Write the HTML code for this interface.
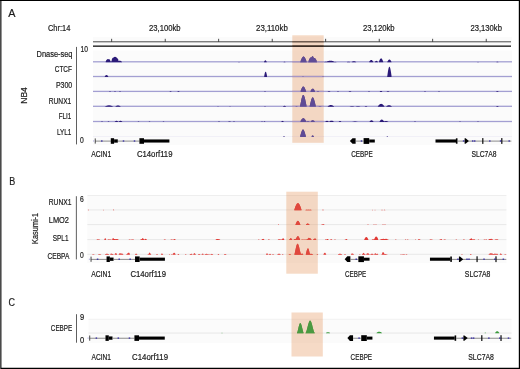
<!DOCTYPE html>
<html><head><meta charset="utf-8"><title>Figure</title>
<style>html,body{margin:0;padding:0;background:#fff}svg{display:block}</style></head>
<body>
<svg width="520" height="369" viewBox="0 0 520 369" font-family="'Liberation Sans', sans-serif" fill="#1c1c1c">
<style>text{stroke:#1c1c1c;stroke-width:0.2px}</style>
<rect x="0" y="0" width="520" height="369" fill="#fff"/>
<rect x="93.0" y="37" width="419.0" height="8.5" fill="#fbfbfb"/>
<rect x="93.0" y="50.5" width="419.0" height="94.5" fill="#fbfbfb"/>
<rect x="93.0" y="41.3" width="418.0" height="1" fill="#4a4a4a"/>
<rect x="93.0" y="45.5" width="418.0" height="1.3" fill="#111"/>
<rect x="111.30" y="38.8" width="0.8" height="3" fill="#222"/>
<rect x="164.80" y="38.8" width="0.8" height="3" fill="#222"/>
<rect x="218.30" y="38.8" width="0.8" height="3" fill="#222"/>
<rect x="271.80" y="38.8" width="0.8" height="3" fill="#222"/>
<rect x="325.30" y="38.8" width="0.8" height="3" fill="#222"/>
<rect x="378.80" y="38.8" width="0.8" height="3" fill="#222"/>
<rect x="432.30" y="38.8" width="0.8" height="3" fill="#222"/>
<rect x="485.80" y="38.8" width="0.8" height="3" fill="#222"/>
<text x="47.90" y="30.60" font-size="8.3" text-anchor="start" textLength="22.40" lengthAdjust="spacingAndGlyphs">Chr:14</text>
<text x="149.00" y="30.60" font-size="8.3" text-anchor="start" textLength="31.60" lengthAdjust="spacingAndGlyphs">23,100kb</text>
<text x="256.00" y="30.60" font-size="8.3" text-anchor="start" textLength="31.80" lengthAdjust="spacingAndGlyphs">23,110kb</text>
<text x="362.90" y="30.60" font-size="8.3" text-anchor="start" textLength="31.70" lengthAdjust="spacingAndGlyphs">23,120kb</text>
<text x="470.40" y="30.60" font-size="8.3" text-anchor="start" textLength="31.50" lengthAdjust="spacingAndGlyphs">23,130kb</text>
<rect x="93.0" y="61.15" width="419.0" height="1.3" fill="#a39fd2"/>
<path d="M105.75 62.35L105.75 61.32L106.00 60.74L106.25 60.29L106.50 59.94L106.75 59.65L107.00 59.43L107.25 59.26L107.50 59.14L107.75 59.07L108.00 59.05L108.25 59.07L108.50 59.14L108.75 59.26L109.00 59.43L109.25 59.22L109.50 59.34L109.75 59.59L110.00 59.96L110.25 60.48L110.50 61.48L110.75 61.46L111.00 61.45L111.25 61.46L111.50 61.48L111.75 59.67L112.00 58.92L112.25 58.40L112.50 58.04L112.75 57.81L113.00 57.92L113.25 57.65L113.50 57.43L113.75 57.25L114.00 57.10L114.25 56.99L114.50 56.91L114.75 56.87L115.00 56.85L115.25 56.87L115.50 56.91L115.75 56.99L116.00 57.10L116.25 57.25L116.50 57.43L116.75 57.65L117.00 57.92L117.25 58.25L117.50 58.64L117.75 58.55L118.00 58.83L118.25 59.41L118.50 61.10L118.75 60.97L119.00 60.87L119.25 60.81L119.50 60.77L119.75 60.75L120.00 60.76L120.25 60.79L120.50 60.84L120.75 60.93L121.00 61.04L121.25 61.19L121.50 61.39L121.75 61.66L122.00 62.10L122.00 62.35ZM238.25 62.35L238.25 62.13L238.50 61.98L238.75 61.88L239.00 61.85L239.25 61.88L239.50 61.98L239.75 62.13L239.75 62.35ZM264.00 62.35L264.00 62.09L264.25 61.53L264.50 61.07L264.75 60.73L265.00 60.49L265.25 60.37L265.50 60.36L265.75 60.46L266.00 60.67L266.25 60.99L266.50 61.43L266.75 61.97L266.75 62.35ZM283.50 62.35L283.50 62.13L283.75 61.97L284.00 61.85L284.25 61.77L284.50 61.75L284.75 61.77L285.00 61.85L285.25 61.97L285.50 62.13L285.50 62.35ZM300.25 62.35L300.25 61.91L300.50 61.32L300.75 60.69L301.00 60.06L301.25 59.45L301.50 58.88L301.75 58.36L302.00 57.89L302.25 57.49L302.50 57.16L302.75 56.89L303.00 56.70L303.25 56.59L303.50 56.55L303.75 56.59L304.00 56.70L304.25 56.89L304.50 57.16L304.75 57.49L305.00 57.89L305.25 58.36L305.50 58.88L305.75 59.45L306.00 60.06L306.25 60.69L306.50 61.32L306.75 61.91L306.75 62.35ZM308.25 62.35L308.25 62.18L308.50 61.36L308.75 60.61L309.00 59.95L309.25 59.36L309.50 58.86L309.75 58.43L310.00 58.08L310.25 57.80L310.50 57.61L310.75 57.49L311.00 57.45L311.25 57.49L311.50 57.61L311.75 56.93L312.00 56.51L312.25 56.27L312.50 56.20L312.75 56.27L313.00 56.49L313.25 56.86L313.50 57.37L313.75 58.03L314.00 58.09L314.25 58.05L314.50 58.07L314.75 58.15L315.00 58.29L315.25 58.50L315.50 58.77L315.75 59.10L316.00 59.51L316.25 59.98L316.50 60.54L316.75 61.18L317.00 61.96L317.00 62.35ZM324.00 62.35L324.00 62.13L324.25 62.04L324.50 61.97L324.75 61.90L325.00 61.85L325.25 61.80L325.50 61.77L325.75 61.76L326.00 61.75L326.25 61.76L326.50 61.77L326.75 61.80L327.00 61.85L327.25 61.38L327.50 61.20L327.75 61.09L328.00 61.03L328.25 61.00L328.50 61.01L328.75 60.92L329.00 60.84L329.25 60.78L329.50 60.73L329.75 60.70L330.00 60.67L330.25 60.66L330.50 60.65L330.75 60.66L331.00 60.67L331.25 60.70L331.50 60.73L331.75 60.78L332.00 60.84L332.25 60.92L332.50 61.01L332.75 61.12L333.00 61.24L333.25 61.28L333.50 61.36L333.75 61.53L334.00 61.98L334.25 61.92L334.50 61.88L334.75 61.86L335.00 61.85L335.25 61.86L335.50 61.88L335.75 61.92L336.00 61.98L336.25 62.05L336.50 62.13L336.50 62.35ZM347.00 62.35L347.00 62.10L347.25 61.97L347.50 61.86L347.75 61.78L348.00 61.71L348.25 61.67L348.50 61.65L348.75 61.65L349.00 61.68L349.25 61.72L349.50 61.79L349.75 61.88L350.00 61.99L350.25 62.13L350.25 62.35ZM351.75 62.35L351.75 62.04L352.00 61.84L352.25 61.67L352.50 61.53L352.75 61.40L353.00 61.31L353.25 61.23L353.50 61.18L353.75 61.15L354.00 61.15L354.25 61.17L354.50 61.22L354.75 61.29L355.00 61.38L355.25 61.50L355.50 61.64L355.75 61.81L356.00 62.00L356.25 62.21L356.25 62.35ZM369.25 62.35L369.25 61.75L369.50 61.32L369.75 60.95L370.00 60.63L370.25 60.38L370.50 60.18L370.75 60.05L371.00 59.97L371.25 59.95L371.50 59.99L371.75 60.09L372.00 60.25L372.25 60.47L372.50 60.75L372.75 61.09L373.00 61.49L373.25 61.94L373.25 62.35ZM374.75 62.35L374.75 62.18L375.00 61.81L375.25 61.50L375.50 61.25L375.75 61.06L376.00 60.93L376.25 60.86L376.50 60.85L376.75 60.91L377.00 61.03L377.25 61.20L377.50 61.44L377.75 61.74L378.00 62.10L378.00 62.35ZM379.00 62.35L379.00 61.83L379.25 61.05L379.50 60.37L379.75 59.79L380.00 59.31L380.25 58.92L380.50 58.63L380.75 58.45L381.00 58.36L381.25 58.37L381.50 58.48L381.75 58.68L382.00 58.99L382.25 59.39L382.50 59.90L382.75 60.50L383.00 61.20L383.25 62.00L383.25 62.35ZM387.25 62.35L387.25 62.11L387.50 61.55L387.75 61.06L388.00 60.63L388.25 60.28L388.50 60.00L388.75 59.78L389.00 59.64L389.25 59.56L389.50 59.56L389.75 59.62L390.00 59.75L390.25 59.95L390.50 60.22L390.75 60.56L391.00 60.97L391.25 61.44L391.50 61.99L391.50 62.35ZM477.25 62.35L477.25 62.13L477.50 61.98L477.75 61.88L478.00 61.85L478.25 61.88L478.50 61.98L478.75 62.13L478.75 62.35ZM496.50 62.35L496.50 62.01L496.75 61.84L497.00 61.72L497.25 61.66L497.50 61.65L497.75 61.70L498.00 61.81L498.25 61.97L498.50 62.19L498.50 62.35Z" fill="#2b1a78"/>
<rect x="93.0" y="75.85" width="419.0" height="1.3" fill="#a39fd2"/>
<path d="M104.75 77.05L104.75 76.58L105.00 76.17L105.25 75.83L105.50 75.55L105.75 75.33L106.00 75.17L106.25 75.08L106.50 75.05L106.75 75.08L107.00 75.17L107.25 75.33L107.50 75.55L107.75 75.83L108.00 76.17L108.25 76.58L108.25 77.05ZM264.25 77.05L264.25 75.68L264.50 74.38L264.75 73.30L265.00 72.48L265.25 71.93L265.50 71.67L265.75 71.70L266.00 72.02L266.25 72.62L266.50 73.50L266.75 74.62L267.00 75.96L267.00 77.05ZM302.25 77.05L302.25 76.83L302.50 76.67L302.75 76.58L303.00 76.55L303.25 76.58L303.50 76.67L303.75 76.83L303.75 77.05ZM322.25 77.05L322.25 76.83L322.50 76.67L322.75 76.58L323.00 76.55L323.25 76.58L323.50 76.67L323.75 76.83L323.75 77.05ZM387.25 77.05L387.25 76.18L387.50 74.42L387.75 72.68L388.00 71.08L388.25 69.69L388.50 68.53L388.75 67.64L389.00 67.03L389.25 66.70L389.50 66.67L389.75 66.94L390.00 67.49L390.25 68.33L390.50 69.43L390.75 70.79L391.00 72.35L391.25 74.07L391.50 75.84L391.50 77.05Z" fill="#2b1a78"/>
<rect x="93.0" y="90.75" width="419.0" height="1.3" fill="#a39fd2"/>
<path d="M109.25 91.95L109.25 91.69L109.50 91.50L109.75 91.39L110.00 91.35L110.25 91.39L110.50 91.50L110.75 91.69L110.75 91.95ZM114.25 91.95L114.25 91.69L114.50 91.50L114.75 91.39L115.00 91.35L115.25 91.39L115.50 91.50L115.75 91.69L115.75 91.95ZM119.25 91.95L119.25 91.69L119.50 91.50L119.75 91.39L120.00 91.35L120.25 91.39L120.50 91.50L120.75 91.69L120.75 91.95ZM169.50 91.95L169.50 91.81L169.75 91.63L170.00 91.49L170.25 91.40L170.50 91.35L170.75 91.36L171.00 91.41L171.25 91.51L171.50 91.66L171.50 91.95ZM177.50 91.95L177.50 91.61L177.75 91.44L178.00 91.32L178.25 91.26L178.50 91.25L178.75 91.30L179.00 91.41L179.25 91.57L179.50 91.79L179.50 91.95ZM264.25 91.95L264.25 91.73L264.50 91.58L264.75 91.48L265.00 91.45L265.25 91.48L265.50 91.58L265.75 91.73L265.75 91.95ZM300.50 91.95L300.50 91.35L300.75 90.71L301.00 90.04L301.25 89.39L301.50 88.79L301.75 88.23L302.00 87.75L302.25 87.34L302.50 87.01L302.75 86.77L303.00 86.62L303.25 86.55L303.50 86.58L303.75 86.70L304.00 86.91L304.25 87.20L304.50 87.58L304.75 88.03L305.00 88.56L305.25 89.14L305.50 89.78L305.75 90.44L306.00 91.10L306.25 91.70L306.25 91.95ZM310.25 91.95L310.25 91.71L310.50 91.22L310.75 90.73L311.00 90.26L311.25 89.84L311.50 89.47L311.75 89.17L312.00 88.93L312.25 88.77L312.50 88.67L312.75 88.65L313.00 88.70L313.25 88.83L313.50 89.02L313.75 89.28L314.00 89.61L314.25 90.00L314.50 90.44L314.75 90.92L315.00 91.42L315.00 91.95ZM316.75 91.95L316.75 91.77L317.00 91.62L317.25 91.50L317.50 91.42L317.75 91.37L318.00 91.35L318.25 91.37L318.50 91.42L318.75 91.50L319.00 91.62L319.25 91.77L319.25 91.95ZM327.75 91.95L327.75 91.77L328.00 91.62L328.25 91.50L328.50 91.42L328.75 91.37L329.00 91.35L329.25 91.37L329.50 91.42L329.75 91.50L330.00 91.62L330.25 91.77L330.25 91.95ZM337.25 91.95L337.25 91.69L337.50 91.50L337.75 91.39L338.00 91.35L338.25 91.39L338.50 91.50L338.75 91.69L338.75 91.95ZM348.75 91.95L348.75 91.77L349.00 91.62L349.25 91.50L349.50 91.42L349.75 91.37L350.00 91.35L350.25 91.37L350.50 91.42L350.75 91.50L351.00 91.62L351.25 91.77L351.25 91.95ZM368.25 91.95L368.25 91.69L368.50 91.50L368.75 91.39L369.00 91.35L369.25 91.39L369.50 91.50L369.75 91.69L369.75 91.95ZM379.75 91.95L379.75 91.64L380.00 91.39L380.25 91.20L380.50 91.06L380.75 90.98L381.00 90.95L381.25 90.98L381.50 91.06L381.75 91.20L382.00 91.39L382.25 91.64L382.25 91.95ZM386.75 91.95L386.75 91.77L387.00 91.62L387.25 91.50L387.50 91.42L387.75 91.37L388.00 91.35L388.25 91.37L388.50 91.42L388.75 91.50L389.00 91.62L389.25 91.77L389.25 91.95ZM424.25 91.95L424.25 91.69L424.50 91.50L424.75 91.39L425.00 91.35L425.25 91.39L425.50 91.50L425.75 91.69L425.75 91.95ZM438.25 91.95L438.25 91.73L438.50 91.58L438.75 91.48L439.00 91.45L439.25 91.48L439.50 91.58L439.75 91.73L439.75 91.95ZM496.25 91.95L496.25 91.83L496.50 91.56L496.75 91.37L497.00 91.23L497.25 91.16L497.50 91.16L497.75 91.21L498.00 91.33L498.25 91.52L498.50 91.77L498.50 91.95Z" fill="#2b1a78"/>
<rect x="93.0" y="105.65" width="419.0" height="1.3" fill="#a39fd2"/>
<path d="M104.75 106.85L104.75 106.69L105.00 106.54L105.25 106.39L105.50 106.26L105.75 106.13L106.00 106.02L106.25 105.91L106.50 105.81L106.75 105.73L107.00 105.65L107.25 105.58L107.50 105.52L107.75 105.47L108.00 105.42L108.25 105.39L108.50 105.37L108.75 105.35L109.00 105.35L109.25 105.35L109.50 105.37L109.75 105.39L110.00 105.42L110.25 105.47L110.50 105.52L110.75 105.58L111.00 105.65L111.25 105.73L111.50 105.81L111.75 105.91L112.00 106.02L112.25 106.13L112.50 106.26L112.75 106.39L113.00 106.54L113.25 106.69L113.25 106.85ZM115.25 106.85L115.25 106.63L115.50 106.42L115.75 106.24L116.00 106.07L116.25 105.93L116.50 105.80L116.75 105.69L117.00 105.61L117.25 105.54L117.50 105.49L117.75 105.46L118.00 105.45L118.25 105.46L118.50 105.49L118.75 105.54L119.00 105.61L119.25 105.69L119.50 105.80L119.75 105.93L120.00 106.07L120.25 106.24L120.50 106.42L120.75 106.63L120.75 106.85ZM217.25 106.85L217.25 106.63L217.50 106.48L217.75 106.38L218.00 106.35L218.25 106.38L218.50 106.48L218.75 106.63L218.75 106.85ZM229.25 106.85L229.25 106.63L229.50 106.48L229.75 106.38L230.00 106.35L230.25 106.38L230.50 106.48L230.75 106.63L230.75 106.85ZM264.25 106.85L264.25 106.59L264.50 106.40L264.75 106.29L265.00 106.25L265.25 106.29L265.50 106.40L265.75 106.59L265.75 106.85ZM283.00 106.85L283.00 106.58L283.25 106.36L283.50 106.18L283.75 106.03L284.00 105.93L284.25 105.87L284.50 105.85L284.75 105.87L285.00 105.93L285.25 106.03L285.50 106.18L285.75 106.36L286.00 106.58L286.00 106.85ZM295.25 106.85L295.25 106.67L295.50 106.52L295.75 106.40L296.00 106.32L296.25 106.27L296.50 106.25L296.75 106.27L297.00 106.32L297.25 106.40L297.50 106.52L297.75 106.67L297.75 106.85ZM300.00 106.85L300.00 106.09L300.25 105.07L300.50 103.90L300.75 102.66L301.00 101.43L301.25 100.24L301.50 99.12L301.75 98.10L302.00 97.20L302.25 96.44L302.50 95.82L302.75 95.36L303.00 95.07L303.25 94.95L303.50 95.01L303.75 95.23L304.00 95.62L304.25 96.17L304.50 96.88L304.75 97.72L305.00 98.70L305.25 99.78L305.50 100.95L305.75 102.17L306.00 103.41L306.25 104.61L306.50 105.71L306.75 106.57L306.75 106.85ZM309.50 106.85L309.50 106.48L309.75 105.68L310.00 104.72L310.25 103.68L310.50 102.64L310.75 101.63L311.00 100.68L311.25 99.82L311.50 99.07L311.75 98.44L312.00 97.95L312.25 97.60L312.50 97.40L312.75 97.35L313.00 97.46L313.25 97.72L313.50 98.13L313.75 98.68L314.00 99.36L314.25 100.15L314.50 101.05L314.75 102.03L315.00 103.06L315.25 104.10L315.50 105.12L315.75 106.03L316.00 106.72L316.00 106.85ZM318.25 106.85L318.25 106.71L318.50 106.59L318.75 106.48L319.00 106.40L319.25 106.33L319.50 106.29L319.75 106.26L320.00 106.25L320.25 106.26L320.50 106.29L320.75 106.33L321.00 106.40L321.25 106.48L321.50 106.59L321.75 106.71L321.75 106.85ZM327.50 106.85L327.50 106.65L327.75 106.42L328.00 106.20L328.25 106.01L328.50 105.83L328.75 105.67L329.00 105.53L329.25 105.40L329.50 105.30L329.75 105.21L330.00 105.14L330.25 105.09L330.50 105.06L330.75 105.05L331.00 105.06L331.25 105.08L331.50 105.12L331.75 105.18L332.00 105.26L332.25 105.36L332.50 105.47L332.75 105.61L333.00 105.76L333.25 105.93L333.50 106.12L333.75 106.33L334.00 106.55L334.00 106.85ZM349.75 106.85L349.75 106.72L350.00 106.60L350.25 106.49L350.50 106.40L350.75 106.33L351.00 106.26L351.25 106.21L351.50 106.18L351.75 106.16L352.00 106.15L352.25 106.16L352.50 106.18L352.75 106.21L353.00 106.26L353.25 106.33L353.50 106.40L353.75 106.49L354.00 106.60L354.25 106.72L354.25 106.85ZM355.75 106.85L355.75 106.72L356.00 106.60L356.25 106.49L356.50 106.40L356.75 106.33L357.00 106.26L357.25 106.21L357.50 106.18L357.75 106.16L358.00 106.15L358.25 106.16L358.50 106.18L358.75 106.21L359.00 106.26L359.25 106.33L359.50 106.40L359.75 106.49L360.00 106.60L360.25 106.72L360.25 106.85ZM364.75 106.85L364.75 106.61L365.00 106.41L365.25 106.25L365.50 106.14L365.75 106.07L366.00 106.05L366.25 106.07L366.50 106.14L366.75 106.25L367.00 106.41L367.25 106.61L367.25 106.85ZM377.75 106.85L377.75 106.60L378.00 106.20L378.25 105.84L378.50 105.51L378.75 105.20L379.00 104.93L379.25 104.69L379.50 104.48L379.75 104.30L380.00 104.15L380.25 104.03L380.50 103.94L380.75 103.88L381.00 103.85L381.25 103.86L381.50 103.89L381.75 103.95L382.00 104.05L382.25 104.17L382.50 104.33L382.75 104.52L383.00 104.73L383.25 104.98L383.50 105.26L383.75 105.57L384.00 105.91L384.25 106.28L384.50 106.68L384.50 106.85ZM386.25 106.85L386.25 106.58L386.50 106.33L386.75 106.11L387.00 105.91L387.25 105.73L387.50 105.58L387.75 105.45L388.00 105.34L388.25 105.26L388.50 105.20L388.75 105.16L389.00 105.15L389.25 105.16L389.50 105.20L389.75 105.26L390.00 105.34L390.25 105.45L390.50 105.58L390.75 105.73L391.00 105.91L391.25 106.11L391.50 106.33L391.75 106.58L391.75 106.85ZM496.25 106.85L496.25 106.52L496.50 106.34L496.75 106.20L497.00 106.11L497.25 106.06L497.50 106.05L497.75 106.09L498.00 106.18L498.25 106.31L498.50 106.48L498.75 106.70L498.75 106.85Z" fill="#2b1a78"/>
<rect x="93.0" y="120.85" width="419.0" height="1.3" fill="#a39fd2"/>
<path d="M101.25 122.05L101.25 121.79L101.50 121.60L101.75 121.49L102.00 121.45L102.25 121.49L102.50 121.60L102.75 121.79L102.75 122.05ZM107.75 122.05L107.75 121.79L108.00 121.60L108.25 121.49L108.50 121.45L108.75 121.49L109.00 121.60L109.25 121.79L109.25 122.05ZM114.75 122.05L114.75 121.77L115.00 121.52L115.25 121.32L115.50 121.15L115.75 121.02L116.00 120.92L116.25 120.87L116.50 120.85L116.75 120.87L117.00 120.92L117.25 121.02L117.50 121.15L117.75 121.32L118.00 121.52L118.25 121.77L118.25 122.05ZM118.75 122.05L118.75 121.77L119.00 121.52L119.25 121.32L119.50 121.15L119.75 121.02L120.00 120.92L120.25 120.87L120.50 120.85L120.75 120.87L121.00 120.92L121.25 121.02L121.50 121.15L121.75 121.32L122.00 121.52L122.25 121.77L122.25 122.05ZM137.75 122.05L137.75 121.83L138.00 121.67L138.25 121.58L138.50 121.55L138.75 121.58L139.00 121.67L139.25 121.83L139.25 122.05ZM148.75 122.05L148.75 121.83L149.00 121.67L149.25 121.58L149.50 121.55L149.75 121.58L150.00 121.67L150.25 121.83L150.25 122.05ZM162.75 122.05L162.75 121.83L163.00 121.67L163.25 121.58L163.50 121.55L163.75 121.58L164.00 121.67L164.25 121.83L164.25 122.05ZM218.25 122.05L218.25 121.79L218.50 121.60L218.75 121.49L219.00 121.45L219.25 121.49L219.50 121.60L219.75 121.79L219.75 122.05ZM228.25 122.05L228.25 121.87L228.50 121.72L228.75 121.60L229.00 121.52L229.25 121.47L229.50 121.45L229.75 121.47L230.00 121.52L230.25 121.60L230.50 121.72L230.75 121.87L230.75 122.05ZM233.25 122.05L233.25 121.79L233.50 121.60L233.75 121.49L234.00 121.45L234.25 121.49L234.50 121.60L234.75 121.79L234.75 122.05ZM261.25 122.05L261.25 121.83L261.50 121.67L261.75 121.58L262.00 121.55L262.25 121.58L262.50 121.67L262.75 121.83L262.75 122.05ZM263.75 122.05L263.75 121.74L264.00 121.52L264.25 121.39L264.50 121.35L264.75 121.39L265.00 121.52L265.25 121.74L265.25 122.05ZM281.25 122.05L281.25 121.68L281.50 121.38L281.75 121.15L282.00 120.98L282.25 120.88L282.50 120.85L282.75 120.88L283.00 120.98L283.25 121.15L283.50 121.38L283.75 121.68L283.75 122.05ZM300.25 122.05L300.25 121.75L300.50 121.30L300.75 120.84L301.00 120.40L301.25 119.98L301.50 119.60L301.75 119.26L302.00 118.97L302.25 118.72L302.50 118.52L302.75 118.38L303.00 118.29L303.25 118.25L303.50 118.27L303.75 118.34L304.00 118.46L304.25 118.64L304.50 118.86L304.75 119.14L305.00 119.46L305.25 119.83L305.50 120.23L305.75 120.66L306.00 121.12L306.25 121.39L306.50 121.64L306.75 121.56L307.00 121.45L307.25 121.36L307.50 121.30L307.75 121.26L308.00 121.25L308.25 121.26L308.50 121.30L308.75 121.36L309.00 121.45L309.25 121.56L309.50 121.70L309.75 121.86L309.75 122.05ZM310.50 122.05L310.50 121.67L310.75 121.38L311.00 121.14L311.25 120.92L311.50 120.74L311.75 120.60L312.00 120.48L312.25 120.41L312.50 120.36L312.75 120.35L313.00 120.37L313.25 120.43L313.50 120.52L313.75 120.65L314.00 120.81L314.25 121.00L314.50 121.23L314.75 121.49L315.00 121.79L315.00 122.05ZM325.25 122.05L325.25 121.77L325.50 121.52L325.75 121.32L326.00 121.15L326.25 121.02L326.50 120.92L326.75 120.87L327.00 120.85L327.25 120.87L327.50 120.92L327.75 121.02L328.00 121.15L328.25 121.32L328.50 121.52L328.75 121.77L328.75 122.05ZM329.25 122.05L329.25 121.78L329.50 121.55L329.75 121.34L330.00 121.15L330.25 121.00L330.50 120.87L330.75 120.78L331.00 120.71L331.25 120.66L331.50 120.65L331.75 120.66L332.00 120.71L332.25 120.78L332.50 120.87L332.75 121.00L333.00 121.15L333.25 121.34L333.50 121.55L333.75 121.78L333.75 122.05ZM338.75 122.05L338.75 121.74L339.00 121.49L339.25 121.30L339.50 121.16L339.75 121.08L340.00 121.05L340.25 121.08L340.50 121.16L340.75 121.30L341.00 121.49L341.25 121.74L341.25 122.05ZM352.50 122.05L352.50 121.90L352.75 121.83L353.00 121.77L353.25 121.72L353.50 121.67L353.75 121.64L354.00 121.61L354.25 121.58L354.50 121.56L354.75 121.55L355.00 121.55L355.25 121.55L355.50 121.56L355.75 121.58L356.00 121.61L356.25 121.64L356.50 121.67L356.75 121.72L357.00 121.77L357.25 121.83L357.50 121.90L357.50 122.05ZM369.50 122.05L369.50 121.69L369.75 121.38L370.00 121.11L370.25 120.87L370.50 120.69L370.75 120.54L371.00 120.43L371.25 120.37L371.50 120.35L371.75 120.37L372.00 120.43L372.25 120.54L372.50 120.69L372.75 120.87L373.00 121.11L373.25 121.38L373.50 121.69L373.50 122.05ZM379.50 122.05L379.50 121.67L379.75 121.23L380.00 120.85L380.25 120.51L380.50 120.23L380.75 119.99L381.00 119.81L381.25 119.67L381.50 119.59L381.75 119.55L382.00 119.57L382.25 119.63L382.50 119.75L382.75 119.91L383.00 120.13L383.25 120.39L383.50 120.71L383.75 120.88L384.00 121.13L384.25 121.44L384.50 121.41L384.75 121.30L385.00 121.21L385.25 121.14L385.50 121.09L385.75 121.06L386.00 121.05L386.25 121.06L386.50 121.09L386.75 121.14L387.00 121.21L387.25 121.30L387.50 121.41L387.75 121.54L388.00 121.69L388.25 121.86L388.25 122.05ZM414.25 122.05L414.25 121.79L414.50 121.60L414.75 121.49L415.00 121.45L415.25 121.49L415.50 121.60L415.75 121.79L415.75 122.05ZM459.25 122.05L459.25 121.83L459.50 121.67L459.75 121.58L460.00 121.55L460.25 121.58L460.50 121.67L460.75 121.83L460.75 122.05ZM477.25 122.05L477.25 121.83L477.50 121.67L477.75 121.58L478.00 121.55L478.25 121.58L478.50 121.67L478.75 121.83L478.75 122.05Z" fill="#2b1a78"/>
<rect x="93.0" y="135.95" width="419.0" height="0.9" fill="#efeef6"/>
<path d="M283.25 136.95L283.25 136.71L283.50 136.40L283.75 136.21L284.00 136.15L284.25 136.21L284.50 136.40L284.75 136.71L284.75 136.95ZM300.00 136.95L300.00 136.68L300.25 135.96L300.50 135.11L300.75 134.23L301.00 133.36L301.25 132.54L301.50 131.79L301.75 131.13L302.00 130.57L302.25 130.13L302.50 129.81L302.75 129.62L303.00 129.55L303.25 129.62L303.50 129.81L303.75 130.13L304.00 130.57L304.25 131.13L304.50 131.79L304.75 132.54L305.00 133.36L305.25 134.23L305.50 135.11L305.75 135.96L306.00 136.68L306.00 136.95ZM311.50 136.95L311.50 136.41L311.75 136.05L312.00 135.78L312.25 135.58L312.50 135.48L312.75 135.45L313.00 135.51L313.25 135.65L313.50 135.88L313.75 136.19L314.00 136.58L314.00 136.95ZM386.75 136.95L386.75 136.44L387.00 136.21L387.25 136.15L387.50 136.28L387.75 136.58L387.75 136.95Z" fill="#2b1a78"/>
<text x="36.50" y="56.50" font-size="8.3" text-anchor="start" textLength="36.00" lengthAdjust="spacingAndGlyphs">Dnase-seq</text>
<text x="54.75" y="72.10" font-size="8.3" text-anchor="start" textLength="17.15" lengthAdjust="spacingAndGlyphs">CTCF</text>
<text x="55.90" y="87.75" font-size="8.3" text-anchor="start" textLength="16.35" lengthAdjust="spacingAndGlyphs">P300</text>
<text x="48.75" y="103.75" font-size="8.3" text-anchor="start" textLength="22.50" lengthAdjust="spacingAndGlyphs">RUNX1</text>
<text x="58.75" y="119.00" font-size="8.3" text-anchor="start" textLength="12.50" lengthAdjust="spacingAndGlyphs">FLI1</text>
<text x="56.90" y="134.75" font-size="8.3" text-anchor="start" textLength="14.35" lengthAdjust="spacingAndGlyphs">LYL1</text>
<rect x="76" y="46.9" width="0.75" height="97.5" fill="#2a2a2a"/>
<text x="80.60" y="51.60" font-size="8.3" text-anchor="start" textLength="7.40" lengthAdjust="spacingAndGlyphs">10</text>
<text x="80.00" y="142.50" font-size="8.3" text-anchor="start" textLength="3.75" lengthAdjust="spacingAndGlyphs">0</text>
<text transform="translate(27.2,103.75) rotate(-90)" font-size="9.6" textLength="16.6" lengthAdjust="spacingAndGlyphs">NB4</text>
<text x="8.30" y="17.00" font-size="11.5" text-anchor="start" textLength="7.20" lengthAdjust="spacingAndGlyphs">A</text>
<text x="9.20" y="184.80" font-size="11.5" text-anchor="start" textLength="6.00" lengthAdjust="spacingAndGlyphs">B</text>
<text x="8.50" y="305.80" font-size="11.5" text-anchor="start" textLength="6.50" lengthAdjust="spacingAndGlyphs">C</text>
<rect x="95.00" y="140.72" width="16.00" height="0.7" fill="#5c5c5c"/><rect x="94.75" y="138.40" width="0.95" height="5.20" fill="#3c3c3c"/><rect x="110.80" y="138.20" width="3.30" height="5.60" fill="#000"/><rect x="114.10" y="139.35" width="3.70" height="3.30" fill="#000"/><rect x="117.80" y="140.72" width="21.60" height="0.7" fill="#5c5c5c"/><rect x="139.40" y="138.20" width="4.60" height="5.60" fill="#000"/><rect x="144.00" y="139.45" width="25.40" height="3.10" fill="#000"/><path d="M349.90 141.00L352.50 138.15L355.60 138.15L355.60 143.85L352.50 143.85Z" fill="#000"/><rect x="355.60" y="140.72" width="8.00" height="0.7" fill="#5c5c5c"/><rect x="363.60" y="138.10" width="5.60" height="5.80" fill="#000"/><rect x="369.20" y="139.50" width="5.60" height="3.00" fill="#000"/><rect x="435.50" y="139.45" width="20.50" height="3.10" fill="#000"/><rect x="455.90" y="138.30" width="1.60" height="5.40" fill="#000"/><rect x="457.50" y="140.72" width="53.80" height="0.7" fill="#5c5c5c"/><path d="M464.60 138.30L465.60 138.30L468.90 141.00L465.60 143.70L464.60 143.70Z" fill="#000"/><rect x="482.20" y="138.10" width="1.20" height="5.80" fill="#0a0a0a"/><rect x="501.20" y="138.10" width="1.20" height="5.80" fill="#0a0a0a"/><rect x="101.05" y="140.35" width="1.5" height="1.3" fill="#352ba6"/><rect x="122.75" y="140.35" width="1.5" height="1.3" fill="#352ba6"/><rect x="133.75" y="140.35" width="1.5" height="1.3" fill="#352ba6"/><rect x="360.75" y="140.35" width="1.5" height="1.3" fill="#352ba6"/><rect x="462.85" y="140.35" width="1.5" height="1.3" fill="#352ba6"/><rect x="471.95" y="140.35" width="1.5" height="1.3" fill="#352ba6"/><rect x="473.95" y="140.35" width="1.5" height="1.3" fill="#352ba6"/><rect x="489.05" y="140.35" width="1.5" height="1.3" fill="#352ba6"/><rect x="499.85" y="140.35" width="1.5" height="1.3" fill="#352ba6"/><rect x="508.45" y="140.35" width="1.5" height="1.3" fill="#352ba6"/><rect x="93.00" y="140.50" width="1.2" height="1.0" fill="#a9a6dc"/>
<text x="91.25" y="156.90" font-size="8.3" text-anchor="start" textLength="20.00" lengthAdjust="spacingAndGlyphs">ACIN1</text>
<text x="136.90" y="156.90" font-size="8.3" text-anchor="start" textLength="35.60" lengthAdjust="spacingAndGlyphs">C14orf119</text>
<text x="351.25" y="156.90" font-size="8.3" text-anchor="start" textLength="21.50" lengthAdjust="spacingAndGlyphs">CEBPE</text>
<text x="471.50" y="156.90" font-size="8.3" text-anchor="start" textLength="25.10" lengthAdjust="spacingAndGlyphs">SLC7A8</text>
<rect x="87.4" y="195.2" width="419.0" height="67.8" fill="#fbfbfb"/>
<rect x="87.4" y="195.2" width="419.0" height="0.8" fill="#ececec"/>
<rect x="87.4" y="209.40" width="419.0" height="1" fill="#e8e8e8"/>
<path d="M87.90 210.35L87.90 210.10L88.15 209.80L88.40 209.66L88.65 209.68L88.90 209.85L89.15 210.18L89.15 210.35ZM102.90 210.35L102.90 210.13L103.15 209.88L103.40 209.76L103.65 209.77L103.90 209.92L104.15 210.20L104.15 210.35ZM112.90 210.35L112.90 209.91L113.15 209.67L113.40 209.56L113.65 209.57L113.90 209.71L114.15 209.97L114.15 210.35ZM294.40 210.35L294.40 209.53L294.65 208.76L294.90 208.01L295.15 207.28L295.40 206.60L295.65 205.97L295.90 205.39L296.15 204.88L296.40 204.42L296.65 204.04L296.90 203.72L297.15 203.47L297.40 203.29L297.65 203.19L297.90 203.15L298.15 203.19L298.40 203.29L298.65 203.47L298.90 203.72L299.15 204.04L299.40 204.42L299.65 204.88L299.90 205.39L300.15 205.97L300.40 206.60L300.65 207.28L300.90 208.01L301.15 208.76L301.40 209.53L301.40 210.35ZM305.40 210.35L305.40 210.19L305.65 209.97L305.90 209.81L306.15 209.70L306.40 209.65L306.65 209.66L306.90 209.72L307.15 209.84L307.40 209.85L307.65 209.87L307.90 209.81L308.15 209.70L308.40 209.65L308.65 209.66L308.90 209.72L309.15 209.84L309.40 209.85L309.65 209.87L309.90 209.81L310.15 209.70L310.40 209.65L310.65 209.66L310.90 209.72L311.15 209.84L311.40 210.01L311.40 210.35ZM322.15 210.35L322.15 210.13L322.40 209.84L322.65 209.65L322.90 209.56L323.15 209.57L323.40 209.68L323.65 209.89L323.90 210.20L323.90 210.35ZM371.90 210.35L371.90 210.13L372.15 209.88L372.40 209.76L372.65 209.77L372.90 209.92L373.15 210.20L373.15 210.35ZM374.40 210.35L374.40 210.13L374.65 209.88L374.90 209.76L375.15 209.77L375.40 209.92L375.65 210.20L375.65 210.35ZM381.15 210.35L381.15 210.16L381.40 209.90L381.65 209.74L381.90 209.66L382.15 209.67L382.40 209.76L382.65 209.95L382.90 210.22L382.90 210.35ZM383.65 210.35L383.65 210.16L383.90 209.90L384.15 209.74L384.40 209.66L384.65 209.67L384.90 209.76L385.15 209.95L385.40 210.22L385.40 210.35Z" fill="#e23a36"/>
<rect x="87.4" y="224.10" width="419.0" height="1" fill="#e8e8e8"/>
<path d="M277.90 225.05L277.90 224.83L278.15 224.58L278.40 224.46L278.65 224.47L278.90 224.62L279.15 224.90L279.15 225.05ZM295.40 225.05L295.40 224.86L295.65 224.25L295.90 223.62L296.15 223.01L296.40 222.47L296.65 221.99L296.90 221.58L297.15 221.27L297.40 221.04L297.65 220.90L297.90 220.85L298.15 220.90L298.40 221.04L298.65 221.27L298.90 221.58L299.15 221.99L299.40 222.47L299.65 223.01L299.90 223.62L300.15 224.25L300.40 224.86L300.40 225.05ZM305.90 225.05L305.90 224.76L306.15 224.45L306.40 224.18L306.65 223.96L306.90 223.79L307.15 223.66L307.40 223.58L307.65 223.55L307.90 223.56L308.15 223.63L308.40 223.73L308.65 223.89L308.90 224.09L309.15 224.34L309.40 224.63L309.40 225.05ZM321.15 225.05L321.15 224.91L321.40 224.73L321.65 224.61L321.90 224.55L322.15 224.56L322.40 224.45L322.65 224.33L322.90 224.34L323.15 224.31L323.40 224.26L323.65 224.26L323.90 224.33L324.15 224.47L324.40 224.66L324.65 224.93L324.65 225.05ZM367.40 225.05L367.40 224.83L367.65 224.58L367.90 224.46L368.15 224.47L368.40 224.62L368.65 224.90L368.65 225.05ZM373.40 225.05L373.40 224.83L373.65 224.58L373.90 224.46L374.15 224.47L374.40 224.62L374.65 224.90L374.65 225.05ZM375.40 225.05L375.40 224.83L375.65 224.58L375.90 224.46L376.15 224.47L376.40 224.62L376.65 224.90L376.65 225.05ZM382.15 225.05L382.15 224.88L382.40 224.67L382.65 224.52L382.90 224.46L383.15 224.46L383.40 224.55L383.65 224.70L383.65 225.05ZM384.15 225.05L384.15 224.88L384.40 224.67L384.65 224.52L384.90 224.46L385.15 224.46L385.40 224.55L385.65 224.70L385.65 225.05Z" fill="#e23a36"/>
<rect x="87.4" y="239.10" width="419.0" height="1" fill="#e8e8e8"/>
<path d="M96.65 240.05L96.65 239.86L96.90 239.60L97.15 239.44L97.40 239.36L97.65 239.37L97.90 239.46L98.15 239.45L98.40 239.47L98.65 239.44L98.90 239.36L99.15 239.37L99.40 239.46L99.65 239.65L99.90 239.92L99.90 240.05ZM104.15 240.05L104.15 239.85L104.40 239.56L104.65 238.89L104.90 238.34L105.15 238.10L105.40 238.17L105.65 238.56L105.90 239.26L106.15 239.64L106.40 239.88L106.40 240.05ZM107.40 240.05L107.40 239.90L107.65 239.71L107.90 239.56L108.15 239.46L108.40 239.39L108.65 239.36L108.90 239.38L109.15 239.43L109.40 239.53L109.65 239.59L109.90 239.58L110.15 239.66L110.40 239.56L110.65 239.51L110.90 239.51L111.15 239.55L111.40 239.63L111.65 239.76L111.65 240.05ZM112.15 240.05L112.15 239.76L112.40 239.05L112.65 238.42L112.90 238.05L113.15 237.94L113.40 238.09L113.65 238.51L113.90 238.92L114.15 238.96L114.40 238.99L114.65 239.06L114.90 238.97L115.15 238.96L115.40 239.02L115.65 239.14L115.90 239.34L116.15 239.28L116.40 239.08L116.65 238.97L116.90 238.93L117.15 238.97L117.40 239.10L117.65 239.26L117.90 239.31L118.15 239.40L118.40 239.54L118.65 239.72L118.65 240.05ZM128.65 240.05L128.65 239.87L128.90 239.68L129.15 239.57L129.40 239.53L129.65 239.58L129.90 239.70L130.15 239.91L130.40 239.85L130.65 239.67L130.90 239.56L131.15 239.51L131.40 239.54L131.65 239.64L131.90 239.81L132.15 239.85L132.40 239.60L132.65 239.44L132.90 239.36L133.15 239.37L133.40 239.46L133.65 239.65L133.90 239.92L133.90 240.05ZM140.15 240.05L140.15 239.77L140.40 239.57L140.65 239.45L140.90 239.41L141.15 239.22L141.40 239.18L141.65 239.08L141.90 238.99L142.15 238.57L142.40 238.23L142.65 238.09L142.90 238.14L143.15 238.38L143.40 238.61L143.65 238.91L143.90 239.34L144.15 239.50L144.40 239.60L144.65 239.57L144.90 239.35L145.15 239.09L145.40 238.92L145.65 238.84L145.90 238.85L146.15 238.94L146.40 239.13L146.65 239.40L146.90 239.76L146.90 240.05ZM163.65 240.05L163.65 239.89L163.90 239.72L164.15 239.60L164.40 239.51L164.65 239.47L164.90 239.47L165.15 239.51L165.40 239.60L165.65 239.73L165.90 239.89L165.90 240.05ZM170.40 240.05L170.40 239.90L170.65 239.73L170.90 239.60L171.15 239.51L171.40 239.46L171.65 239.45L171.90 239.47L172.15 239.53L172.40 239.63L172.65 239.64L172.90 239.67L173.15 239.65L173.40 239.57L173.65 239.51L173.90 239.49L174.15 239.29L174.40 239.10L174.65 239.03L174.90 239.08L175.15 239.26L175.40 239.56L175.65 239.81L175.65 240.05ZM215.40 240.05L215.40 239.89L215.65 239.65L215.90 239.45L216.15 239.29L216.40 239.17L216.65 239.09L216.90 239.05L217.15 239.06L217.40 239.10L217.65 239.04L217.90 238.94L218.15 238.94L218.40 239.02L218.65 239.18L218.90 239.25L219.15 239.26L219.40 239.31L219.65 239.40L219.90 239.54L220.15 239.72L220.15 240.05ZM258.15 240.05L258.15 239.83L258.40 239.59L258.65 239.45L258.90 239.41L259.15 239.48L259.40 239.66L259.40 240.05ZM261.40 240.05L261.40 239.86L261.65 239.72L261.90 239.59L262.15 239.29L262.40 239.10L262.65 239.01L262.90 239.02L263.15 238.90L263.40 238.85L263.65 239.04L263.90 239.36L264.15 239.55L264.40 239.82L264.40 240.05ZM267.90 240.05L267.90 239.76L268.15 239.61L268.40 239.50L268.65 239.44L268.90 239.44L269.15 239.48L269.40 239.57L269.65 239.71L269.90 239.90L269.90 240.05ZM277.65 240.05L277.65 239.91L277.90 239.68L278.15 239.50L278.40 239.38L278.65 239.31L278.90 239.29L279.15 239.32L279.40 239.40L279.65 239.35L279.90 239.31L280.15 239.38L280.40 239.40L280.65 239.38L280.90 239.43L281.15 239.56L281.40 239.56L281.65 239.60L281.90 239.46L282.15 239.19L282.40 238.76L282.65 238.40L282.90 238.21L283.15 238.17L283.40 238.29L283.65 238.57L283.90 239.01L284.15 239.37L284.40 239.76L284.40 240.05ZM289.15 240.05L289.15 239.65L289.40 239.44L289.65 239.31L289.90 239.13L290.15 238.71L290.40 238.31L290.65 238.16L290.90 238.25L291.15 238.41L291.40 238.56L291.65 238.88L291.90 239.35L292.15 239.69L292.40 239.93L292.40 240.05ZM293.65 240.05L293.65 239.86L293.90 239.59L294.15 239.37L294.40 239.21L294.65 239.10L294.90 239.05L295.15 239.06L295.40 239.12L295.65 239.15L295.90 238.69L296.15 238.26L296.40 237.91L296.65 237.49L296.90 237.02L297.15 236.64L297.40 236.37L297.65 236.21L297.90 236.15L298.15 236.21L298.40 236.37L298.65 236.64L298.90 237.02L299.15 237.49L299.40 238.04L299.65 238.67L299.90 239.33L299.90 240.05ZM301.40 240.05L301.40 239.88L301.65 239.69L301.90 239.58L302.15 239.55L302.40 239.61L302.65 239.75L302.65 240.05ZM303.40 240.05L303.40 239.89L303.65 239.61L303.90 239.47L304.15 239.45L304.40 239.56L304.65 239.80L304.65 240.05ZM305.40 240.05L305.40 239.76L305.65 239.59L305.90 239.51L306.15 239.51L306.40 239.58L306.65 239.74L306.90 239.78L307.15 239.62L307.40 239.37L307.65 238.97L307.90 238.66L308.15 238.44L308.40 238.09L308.65 237.88L308.90 237.82L309.15 237.92L309.40 238.11L309.65 238.02L309.90 238.02L310.15 238.15L310.40 238.43L310.65 238.69L310.90 238.92L311.15 239.22L311.40 239.61L311.40 240.05ZM313.15 240.05L313.15 239.80L313.40 239.52L313.65 239.18L313.90 238.92L314.15 238.75L314.40 238.66L314.65 238.65L314.90 238.68L315.15 238.54L315.40 238.59L315.65 238.84L315.90 239.20L316.15 239.54L316.40 239.88L316.40 240.05ZM324.90 240.05L324.90 239.71L325.15 239.57L325.40 239.53L325.65 239.57L325.90 239.58L326.15 239.71L326.40 239.64L326.65 239.34L326.90 239.12L327.15 238.98L327.40 238.93L327.65 238.97L327.90 239.10L328.15 239.31L328.40 239.61L328.65 239.87L328.65 240.05ZM330.15 240.05L330.15 239.75L330.40 239.56L330.65 239.41L330.90 239.33L331.15 239.29L331.40 239.30L331.65 239.37L331.90 239.49L332.15 239.67L332.40 239.89L332.40 240.05ZM334.40 240.05L334.40 239.67L334.65 239.46L334.90 239.37L335.15 239.39L335.40 239.53L335.65 239.79L335.65 240.05ZM344.65 240.05L344.65 239.82L344.90 239.66L345.15 239.53L345.40 239.44L345.65 239.39L345.90 239.22L346.15 239.04L346.40 238.97L346.65 239.01L346.90 239.14L347.15 239.39L347.40 239.70L347.65 239.91L347.65 240.05ZM364.15 240.05L364.15 239.79L364.40 239.19L364.65 238.66L364.90 238.21L365.15 237.83L365.40 237.53L365.65 237.30L365.90 237.14L366.15 237.06L366.40 237.06L366.65 237.12L366.90 237.26L367.15 237.48L367.40 237.77L367.65 238.13L367.90 238.57L368.15 239.08L368.40 239.66L368.40 240.05ZM371.65 240.05L371.65 239.90L371.90 239.68L372.15 239.51L372.40 239.38L372.65 239.29L372.90 239.25L373.15 239.26L373.40 239.31L373.65 239.40L373.90 239.54L374.15 239.13L374.40 238.69L374.65 238.21L374.90 237.72L375.15 237.31L375.40 236.99L375.65 236.76L375.90 236.61L376.15 236.55L376.40 236.58L376.65 236.69L376.90 236.89L377.15 237.17L377.40 237.55L377.65 238.00L377.90 238.55L378.15 239.18L378.40 239.90L378.40 240.05ZM379.65 240.05L379.65 239.85L379.90 239.72L380.15 239.59L380.40 239.48L380.65 239.38L380.90 239.28L381.15 239.20L381.40 239.12L381.65 239.05L381.90 239.00L382.15 238.95L382.40 238.91L382.65 238.88L382.90 238.86L383.15 238.85L383.40 238.85L383.65 238.86L383.90 238.88L384.15 238.90L384.40 238.94L384.65 238.99L384.90 239.04L385.15 238.99L385.40 238.89L385.65 238.83L385.90 238.80L386.15 238.80L386.40 238.84L386.65 238.92L386.90 239.02L387.15 239.17L387.40 239.28L387.65 239.33L387.90 239.41L388.15 239.51L388.40 239.64L388.65 239.79L388.65 240.05ZM395.15 240.05L395.15 239.72L395.40 239.56L395.65 239.49L395.90 239.49L396.15 239.58L396.40 239.74L396.40 240.05ZM404.90 240.05L404.90 239.87L405.15 239.62L405.40 239.48L405.65 239.46L405.90 239.54L406.15 239.74L406.15 240.05ZM406.90 240.05L406.90 239.77L407.15 239.65L407.40 239.57L407.65 239.54L407.90 239.57L408.15 239.63L408.40 239.75L408.65 239.92L408.65 240.05ZM414.90 240.05L414.90 239.73L415.15 239.57L415.40 239.52L415.65 239.58L415.90 239.76L415.90 240.05ZM418.15 240.05L418.15 239.67L418.40 239.27L418.65 239.02L418.90 238.92L419.15 238.99L419.40 239.20L419.65 239.40L419.90 239.47L420.15 239.60L420.40 239.78L420.40 240.05ZM429.65 240.05L429.65 239.72L429.90 239.55L430.15 239.48L430.40 239.38L430.65 239.33L430.90 239.42L431.15 239.56L431.40 239.52L431.65 239.51L431.90 239.53L432.15 239.60L432.40 239.70L432.65 239.83L432.65 240.05ZM439.40 240.05L439.40 239.81L439.65 239.66L439.90 239.54L440.15 239.47L440.40 239.44L440.65 239.20L440.90 239.03L441.15 239.00L441.40 239.11L441.65 239.36L441.90 239.62L442.15 239.87L442.15 240.05ZM443.65 240.05L443.65 239.78L443.90 239.61L444.15 239.49L444.40 239.41L444.65 239.38L444.90 239.39L445.15 239.45L445.40 239.56L445.65 239.71L445.90 239.91L445.90 240.05ZM455.65 240.05L455.65 239.72L455.90 239.57L456.15 239.50L456.40 239.51L456.65 239.59L456.90 239.75L456.90 240.05ZM462.90 240.05L462.90 239.84L463.15 239.69L463.40 239.58L463.65 239.52L463.90 239.51L464.15 239.54L464.40 239.62L464.65 239.74L464.90 239.91L464.90 240.05ZM469.15 240.05L469.15 239.88L469.40 239.62L469.65 239.40L469.90 239.21L470.15 239.07L470.40 238.96L470.65 238.71L470.90 238.48L471.15 238.36L471.40 238.35L471.65 238.47L471.90 238.70L472.15 239.06L472.40 239.44L472.65 239.51L472.90 239.56L473.15 239.51L473.40 239.38L473.65 239.29L473.90 239.25L474.15 239.26L474.40 239.31L474.65 239.40L474.90 239.54L475.15 239.72L475.15 240.05ZM477.65 240.05L477.65 239.88L477.90 239.63L478.15 239.50L478.40 239.49L478.65 239.60L478.90 239.83L478.90 240.05ZM483.65 240.05L483.65 239.93L483.90 239.62L484.15 239.44L484.40 239.39L484.65 239.46L484.90 239.66L485.15 239.89L485.40 239.70L485.65 239.51L485.90 239.40L486.15 239.36L486.40 239.39L486.65 239.50L486.90 239.68L487.15 239.93L487.15 240.05ZM488.15 240.05L488.15 239.89L488.40 239.65L488.65 239.45L488.90 239.28L489.15 239.15L489.40 239.05L489.65 238.98L489.90 238.95L490.15 238.96L490.40 238.99L490.65 238.91L490.90 238.80L491.15 238.77L491.40 238.82L491.65 238.94L491.90 239.15L492.15 239.26L492.40 239.31L492.65 239.40L492.90 239.54L493.15 239.72L493.15 240.05ZM494.65 240.05L494.65 239.79L494.90 239.59L495.15 239.45L495.40 239.39L495.65 239.39L495.90 239.29L496.15 239.24L496.40 239.30L496.65 239.44L496.90 239.38L497.15 239.35L497.40 239.37L497.65 239.43L497.90 239.53L498.15 239.67L498.40 239.85L498.40 240.05Z" fill="#e23a36"/>
<rect x="87.4" y="253.80" width="419.0" height="1" fill="#e8e8e8"/>
<path d="M92.15 254.75L92.15 254.58L92.40 254.43L92.65 254.32L92.90 254.24L93.15 254.20L93.40 254.19L93.65 254.22L93.90 254.28L94.15 254.37L94.40 254.50L94.40 254.75ZM98.15 254.75L98.15 254.59L98.40 254.31L98.65 254.14L98.90 254.08L99.15 254.11L99.40 254.07L99.65 254.20L99.90 254.22L100.15 254.16L100.40 254.16L100.65 254.20L100.90 254.30L101.15 254.45L101.15 254.75ZM104.90 254.75L104.90 254.46L105.15 254.30L105.40 254.16L105.65 254.04L105.90 253.94L106.15 253.87L106.40 253.81L106.65 253.77L106.90 253.75L107.15 253.75L107.40 253.78L107.65 253.82L107.90 253.88L108.15 253.96L108.40 254.06L108.65 254.19L108.90 254.33L109.15 254.49L109.15 254.75ZM110.15 254.75L110.15 254.62L110.40 254.27L110.65 253.86L110.90 253.59L111.15 253.47L111.40 253.50L111.65 253.68L111.90 253.85L112.15 253.86L112.40 253.89L112.65 253.95L112.90 254.03L113.15 254.15L113.40 254.29L113.65 254.46L113.65 254.75ZM114.65 254.75L114.65 254.31L114.90 253.86L115.15 253.51L115.40 253.27L115.65 253.13L115.90 253.10L116.15 253.17L116.40 253.35L116.65 253.63L116.90 254.02L117.15 254.42L117.15 254.75ZM118.65 254.75L118.65 254.55L118.90 254.01L119.15 253.63L119.40 253.40L119.65 253.32L119.90 253.30L120.15 253.34L120.40 253.57L120.65 253.44L120.90 253.35L121.15 253.38L121.40 253.54L121.65 253.66L121.90 253.60L122.15 253.55L122.40 253.66L122.65 253.79L122.90 253.95L123.15 254.23L123.40 254.49L123.40 254.75ZM126.15 254.75L126.15 254.46L126.40 254.30L126.65 254.18L126.90 254.09L127.15 253.68L127.40 253.44L127.65 253.34L127.90 252.99L128.15 252.81L128.40 252.63L128.65 252.80L128.90 252.64L129.15 252.72L129.40 253.04L129.65 253.60L129.90 254.35L129.90 254.75ZM134.90 254.75L134.90 254.60L135.15 254.34L135.40 254.04L135.65 253.82L135.90 253.68L136.15 253.63L136.40 253.66L136.65 253.77L136.90 253.96L137.15 254.24L137.40 254.52L137.40 254.75ZM147.40 254.75L147.40 254.61L147.65 254.44L147.90 254.32L148.15 254.26L148.40 254.18L148.65 253.94L148.90 253.26L149.15 252.91L149.40 252.80L149.65 252.53L149.90 252.61L150.15 253.05L150.40 253.59L150.65 254.02L150.90 254.14L151.15 254.34L151.15 254.75ZM156.15 254.75L156.15 254.47L156.40 254.29L156.65 254.17L156.90 254.11L157.15 254.10L157.40 254.16L157.65 254.28L157.90 254.46L157.90 254.75ZM160.90 254.75L160.90 254.60L161.15 254.21L161.40 253.85L161.65 253.62L161.90 253.52L162.15 253.54L162.40 253.68L162.65 253.96L162.90 254.35L163.15 254.62L163.15 254.75ZM168.90 254.75L168.90 254.41L169.15 254.23L169.40 254.17L169.65 254.21L169.90 254.37L169.90 254.75ZM170.90 254.75L170.90 254.39L171.15 254.21L171.40 254.16L171.65 254.22L171.90 254.41L171.90 254.75ZM172.40 254.75L172.40 254.48L172.65 254.06L172.90 253.75L173.15 253.54L173.40 253.19L173.65 252.98L173.90 252.73L174.15 252.63L174.40 252.77L174.65 252.90L174.90 253.17L175.15 253.60L175.40 253.96L175.65 254.40L175.65 254.75ZM177.65 254.75L177.65 254.34L177.90 254.10L178.15 253.96L178.40 253.92L178.65 253.97L178.90 254.11L179.15 254.35L179.15 254.75ZM184.90 254.75L184.90 254.54L185.15 254.35L185.40 254.23L185.65 254.18L185.90 254.21L186.15 254.31L186.40 254.48L186.40 254.75ZM189.65 254.75L189.65 254.47L189.90 254.25L190.15 254.09L190.40 253.99L190.65 253.94L190.90 253.91L191.15 253.75L191.40 253.72L191.65 253.80L191.90 254.00L192.15 254.28L192.40 254.39L192.65 254.55L192.65 254.75ZM193.15 254.75L193.15 254.44L193.40 254.15L193.65 253.72L193.90 253.41L194.15 253.22L194.40 253.15L194.65 253.20L194.90 253.37L195.15 253.66L195.40 254.06L195.65 254.29L195.90 254.52L195.90 254.75ZM197.90 254.75L197.90 254.58L198.15 254.34L198.40 254.15L198.65 254.02L198.90 253.94L199.15 253.92L199.40 253.95L199.65 254.04L199.90 254.18L200.15 254.37L200.40 254.62L200.40 254.75ZM201.40 254.75L201.40 254.56L201.65 254.34L201.90 254.19L202.15 254.10L202.40 253.86L202.65 253.62L202.90 253.57L203.15 253.73L203.40 254.08L203.65 254.44L203.65 254.75ZM204.65 254.75L204.65 254.52L204.90 254.31L205.15 254.16L205.40 254.05L205.65 253.99L205.90 253.98L206.15 253.96L206.40 253.80L206.65 253.75L206.90 253.81L207.15 253.98L207.40 254.10L207.65 254.17L207.90 254.29L208.15 254.29L208.40 254.39L208.65 254.30L208.90 254.25L209.15 254.25L209.40 254.29L209.65 254.38L209.90 254.51L209.90 254.75ZM210.40 254.75L210.40 254.57L210.65 254.28L210.90 254.08L211.15 253.96L211.40 253.93L211.65 253.99L211.90 253.86L212.15 253.89L212.40 254.10L212.65 254.17L212.90 254.28L213.15 254.49L213.15 254.75ZM217.65 254.75L217.65 254.54L217.90 254.22L218.15 254.01L218.40 253.92L218.65 253.95L218.90 254.09L219.15 254.35L219.15 254.75ZM223.90 254.75L223.90 254.48L224.15 254.29L224.40 254.14L224.65 254.04L224.90 253.99L225.15 253.98L225.40 254.01L225.65 254.09L225.90 254.21L226.15 254.37L226.40 254.58L226.40 254.75ZM265.90 254.75L265.90 254.53L266.15 254.13L266.40 253.72L266.65 253.46L266.90 253.33L267.15 253.35L267.40 253.51L267.65 253.81L267.90 254.19L268.15 254.39L268.15 254.75ZM268.65 254.75L268.65 254.58L268.90 254.33L269.15 254.14L269.40 253.99L269.65 253.90L269.90 253.85L270.15 253.86L270.40 253.91L270.65 254.02L270.90 254.17L271.15 254.38L271.15 254.75ZM271.90 254.75L271.90 254.53L272.15 254.40L272.40 254.31L272.65 254.24L272.90 254.21L273.15 254.21L273.40 254.24L273.65 254.31L273.90 254.41L274.15 254.54L274.15 254.75ZM277.15 254.75L277.15 254.61L277.40 254.39L277.65 254.21L277.90 254.05L278.15 253.93L278.40 253.84L278.65 253.78L278.90 253.75L279.15 253.76L279.40 253.79L279.65 253.86L279.90 253.95L280.15 254.08L280.40 254.24L280.65 254.43L280.65 254.75ZM282.15 254.75L282.15 254.35L282.40 254.13L282.65 254.04L282.90 254.09L283.15 254.27L283.40 254.58L283.40 254.75ZM288.65 254.75L288.65 254.62L288.90 254.47L289.15 254.36L289.40 254.28L289.65 254.24L289.90 254.23L290.15 254.25L290.40 254.31L290.65 254.40L290.90 254.52L290.90 254.75ZM294.40 254.75L294.40 254.41L294.65 253.57L294.90 252.51L295.15 251.34L295.40 250.13L295.65 248.94L295.90 247.81L296.15 246.77L296.40 245.86L296.65 245.09L296.90 244.49L297.15 244.06L297.40 243.81L297.65 243.75L297.90 243.89L298.15 244.21L298.40 244.71L298.65 245.38L298.90 246.21L299.15 247.17L299.40 248.25L299.65 249.41L299.90 250.58L300.15 251.48L300.40 252.44L300.65 253.37L300.90 254.00L301.15 254.09L301.40 254.06L301.65 253.73L301.90 253.56L302.15 253.54L302.40 253.67L302.65 253.95L302.90 254.20L303.15 254.42L303.15 254.75ZM305.90 254.75L305.90 253.87L306.15 252.86L306.40 251.85L306.65 250.91L306.90 250.11L307.15 249.47L307.40 249.03L307.65 248.60L307.90 248.37L308.15 248.46L308.40 248.69L308.65 249.17L308.90 249.98L309.15 251.06L309.40 252.12L309.65 253.17L309.90 253.86L310.15 253.94L310.40 253.97L310.65 253.83L310.90 253.70L311.15 253.70L311.40 253.84L311.65 254.10L311.90 254.08L312.15 254.11L312.40 254.17L312.65 254.28L312.90 254.42L313.15 254.61L313.15 254.75ZM316.65 254.75L316.65 254.59L316.90 254.39L317.15 254.26L317.40 254.20L317.65 254.21L317.90 254.28L318.15 254.42L318.15 254.75ZM323.40 254.75L323.40 254.49L323.65 253.93L323.90 253.47L324.15 253.13L324.40 252.89L324.65 252.77L324.90 252.76L325.15 252.86L325.40 253.07L325.65 253.39L325.90 253.83L326.15 254.37L326.15 254.75ZM337.90 254.75L337.90 254.46L338.15 254.30L338.40 254.16L338.65 254.04L338.90 253.94L339.15 253.87L339.40 253.81L339.65 253.77L339.90 253.75L340.15 253.75L340.40 253.78L340.65 253.82L340.90 253.88L341.15 253.96L341.40 254.06L341.65 254.19L341.90 254.33L342.15 254.49L342.15 254.75ZM343.90 254.75L343.90 254.61L344.15 254.46L344.40 254.34L344.65 254.27L344.90 254.23L345.15 254.23L345.40 254.28L345.65 254.35L345.90 254.47L346.15 254.63L346.15 254.75ZM350.90 254.75L350.90 254.58L351.15 254.17L351.40 253.79L351.65 253.55L351.90 253.46L352.15 253.51L352.40 253.56L352.65 253.66L352.90 253.62L353.15 253.71L353.40 253.91L353.65 254.24L353.90 254.46L353.90 254.75ZM359.15 254.75L359.15 254.62L359.40 254.34L359.65 254.19L359.90 254.15L360.15 254.23L360.40 254.43L360.40 254.75ZM361.90 254.75L361.90 254.59L362.15 254.28L362.40 253.96L362.65 253.72L362.90 253.41L363.15 253.01L363.40 252.83L363.65 252.88L363.90 253.15L364.15 253.37L364.40 253.77L364.65 253.95L364.90 254.03L365.15 254.15L365.40 254.29L365.65 254.46L365.65 254.75ZM366.15 254.75L366.15 254.54L366.40 254.16L366.65 253.84L366.90 253.59L367.15 253.40L367.40 253.27L367.65 253.21L367.90 253.21L368.15 253.28L368.40 253.41L368.65 253.61L368.90 253.87L369.15 254.08L369.40 254.24L369.65 254.43L369.65 254.75ZM370.15 254.75L370.15 254.61L370.40 254.39L370.65 254.21L370.90 254.05L371.15 253.93L371.40 253.84L371.65 253.78L371.90 253.75L372.15 253.76L372.40 253.79L372.65 253.86L372.90 253.95L373.15 254.08L373.40 254.24L373.65 254.43L373.65 254.75ZM374.15 254.75L374.15 254.60L374.40 254.09L374.65 253.71L374.90 253.44L375.15 253.30L375.40 253.28L375.65 253.39L375.90 253.61L376.15 253.95L376.40 253.98L376.65 254.03L376.90 253.84L377.15 253.71L377.40 253.71L377.65 253.83L377.90 254.09L378.15 254.35L378.15 254.75ZM381.40 254.75L381.40 254.46L381.65 254.28L381.90 253.98L382.15 253.43L382.40 252.74L382.65 252.27L382.90 252.05L383.15 252.09L383.40 252.31L383.65 252.52L383.90 252.93L384.15 253.52L384.40 253.77L384.65 254.02L384.90 254.05L385.15 254.05L385.40 254.06L385.65 254.08L385.90 254.11L386.15 254.15L386.40 254.20L386.65 254.26L386.90 254.33L387.15 254.41L387.40 254.50L387.65 254.60L387.65 254.75ZM400.40 254.75L400.40 254.57L400.65 254.30L400.90 254.17L401.15 254.16L401.40 254.29L401.65 254.56L401.65 254.75ZM402.15 254.75L402.15 254.51L402.40 254.36L402.65 254.27L402.90 254.23L403.15 254.26L403.40 254.34L403.65 254.32L403.90 254.26L404.15 254.20L404.40 254.19L404.65 254.31L404.90 254.56L404.90 254.75ZM405.65 254.75L405.65 254.45L405.90 254.30L406.15 254.20L406.40 254.16L406.65 254.17L406.90 254.25L407.15 254.39L407.40 254.58L407.40 254.75ZM461.15 254.75L461.15 254.55L461.40 254.38L461.65 254.28L461.90 254.24L462.15 254.27L462.40 254.37L462.65 254.53L462.65 254.75ZM469.90 254.75L469.90 254.41L470.15 254.23L470.40 254.12L470.65 254.08L470.90 254.09L471.15 254.17L471.40 254.32L471.65 254.53L471.65 254.75ZM488.40 254.75L488.40 254.62L488.65 254.48L488.90 254.37L489.15 254.13L489.40 253.83L489.65 253.60L489.90 253.44L490.15 253.33L490.40 253.29L490.65 253.30L490.90 253.38L491.15 253.38L491.40 253.35L491.65 253.36L491.90 253.39L492.15 253.44L492.40 253.53L492.65 253.65L492.90 253.79L493.15 253.96L493.40 253.99L493.65 254.01L493.90 254.11L494.15 254.00L494.40 253.77L494.65 253.62L494.90 253.55L495.15 253.56L495.40 253.65L495.65 253.81L495.90 253.95L496.15 253.95L496.40 253.82L496.65 253.70L496.90 253.66L497.15 253.69L497.40 253.80L497.65 253.99L497.90 254.25L498.15 254.47L498.15 254.75ZM499.65 254.75L499.65 254.52L499.90 254.14L500.15 253.81L500.40 253.61L500.65 253.53L500.90 253.58L501.15 253.77L501.40 254.08L501.65 254.22L501.90 254.37L502.15 254.57L502.15 254.75ZM504.40 254.75L504.40 254.47L504.65 254.34L504.90 254.26L505.15 254.21L505.40 254.21L505.65 254.25L505.90 254.32L506.15 254.44L506.40 254.60L506.40 254.75Z" fill="#e23a36"/>
<rect x="90.82" y="258.92" width="15.94" height="0.7" fill="#5c5c5c"/><rect x="90.57" y="256.60" width="0.95" height="5.20" fill="#3c3c3c"/><rect x="106.56" y="256.40" width="3.30" height="5.60" fill="#000"/><rect x="109.86" y="257.55" width="3.70" height="3.30" fill="#000"/><rect x="113.53" y="258.92" width="21.51" height="0.7" fill="#5c5c5c"/><rect x="135.04" y="256.40" width="4.60" height="5.60" fill="#000"/><rect x="139.64" y="257.65" width="25.28" height="3.10" fill="#000"/><path d="M344.70 259.20L347.30 256.35L350.40 256.35L350.40 262.05L347.30 262.05Z" fill="#000"/><rect x="350.40" y="258.92" width="7.95" height="0.7" fill="#5c5c5c"/><rect x="358.35" y="256.30" width="5.60" height="5.80" fill="#000"/><rect x="363.95" y="257.70" width="5.60" height="3.00" fill="#000"/><rect x="429.96" y="257.65" width="20.42" height="3.10" fill="#000"/><rect x="450.28" y="256.50" width="1.60" height="5.40" fill="#000"/><rect x="451.87" y="258.92" width="54.43" height="0.7" fill="#5c5c5c"/><path d="M458.95 256.50L459.95 256.50L463.25 259.20L459.95 261.90L458.95 261.90Z" fill="#000"/><rect x="476.47" y="256.30" width="1.20" height="5.80" fill="#0a0a0a"/><rect x="495.39" y="256.30" width="1.20" height="5.80" fill="#0a0a0a"/><rect x="96.84" y="258.55" width="1.5" height="1.3" fill="#352ba6"/><rect x="118.46" y="258.55" width="1.5" height="1.3" fill="#352ba6"/><rect x="129.41" y="258.55" width="1.5" height="1.3" fill="#352ba6"/><rect x="355.50" y="258.55" width="1.5" height="1.3" fill="#352ba6"/><rect x="457.20" y="258.55" width="1.5" height="1.3" fill="#352ba6"/><rect x="466.26" y="258.55" width="1.5" height="1.3" fill="#352ba6"/><rect x="468.25" y="258.55" width="1.5" height="1.3" fill="#352ba6"/><rect x="483.29" y="258.55" width="1.5" height="1.3" fill="#352ba6"/><rect x="494.05" y="258.55" width="1.5" height="1.3" fill="#352ba6"/><rect x="502.61" y="258.55" width="1.5" height="1.3" fill="#352ba6"/><rect x="88.83" y="258.70" width="1.2" height="1.0" fill="#a9a6dc"/>
<text x="48.75" y="205.00" font-size="8.3" text-anchor="start" textLength="22.75" lengthAdjust="spacingAndGlyphs">RUNX1</text>
<text x="48.75" y="222.75" font-size="8.3" text-anchor="start" textLength="20.25" lengthAdjust="spacingAndGlyphs">LMO2</text>
<text x="52.75" y="240.60" font-size="8.3" text-anchor="start" textLength="15.75" lengthAdjust="spacingAndGlyphs">SPL1</text>
<text x="47.50" y="258.50" font-size="8.3" text-anchor="start" textLength="21.90" lengthAdjust="spacingAndGlyphs">CEBPA</text>
<rect x="75.9" y="196.2" width="0.75" height="63.2" fill="#2a2a2a"/>
<text x="80.00" y="202.10" font-size="8.3" text-anchor="start" textLength="3.75" lengthAdjust="spacingAndGlyphs">6</text>
<text x="80.00" y="257.75" font-size="8.3" text-anchor="start" textLength="3.75" lengthAdjust="spacingAndGlyphs">0</text>
<text transform="translate(38.2,244) rotate(-90)" font-size="9" textLength="31.1" lengthAdjust="spacingAndGlyphs">Kasumi-1</text>
<text x="91.20" y="277.40" font-size="8.3" text-anchor="start" textLength="20.00" lengthAdjust="spacingAndGlyphs">ACIN1</text>
<text x="130.40" y="277.40" font-size="8.3" text-anchor="start" textLength="35.60" lengthAdjust="spacingAndGlyphs">C14orf119</text>
<text x="345.00" y="277.40" font-size="8.3" text-anchor="start" textLength="21.25" lengthAdjust="spacingAndGlyphs">CEBPE</text>
<text x="464.80" y="277.40" font-size="8.3" text-anchor="start" textLength="25.60" lengthAdjust="spacingAndGlyphs">SLC7A8</text>
<rect x="88.5" y="319" width="423.0" height="24" fill="#fbfbfb"/>
<rect x="88.5" y="318.8" width="423.0" height="0.8" fill="#efefef"/>
<rect x="88.5" y="332.6" width="423.0" height="0.9" fill="#e6e6e6"/>
<path d="M221.50 333.20L221.50 332.98L221.75 332.84L222.00 332.80L222.25 332.84L222.50 332.98L222.50 333.20ZM297.00 333.20L297.00 332.89L297.25 332.37L297.50 331.64L297.75 330.75L298.00 329.75L298.25 328.69L298.50 327.62L298.75 326.59L299.00 325.64L299.25 324.80L299.50 324.11L299.75 323.58L300.00 323.25L300.25 323.10L300.50 323.16L300.75 323.43L301.00 323.88L301.25 324.51L301.50 325.29L301.75 326.20L302.00 327.21L302.25 328.26L302.50 329.33L302.75 330.36L303.00 331.30L303.25 332.10L303.50 332.71L303.50 333.20ZM305.50 333.20L305.50 332.96L305.75 332.65L306.00 332.19L306.25 331.60L306.50 330.89L306.75 330.07L307.00 329.18L307.25 328.22L307.50 327.24L307.75 326.24L308.00 325.27L308.25 324.34L308.50 323.47L308.75 322.69L309.00 322.01L309.25 321.46L309.50 321.03L309.75 320.75L310.00 320.61L310.25 320.63L310.50 320.79L310.75 321.11L311.00 321.56L311.25 322.14L311.50 322.84L311.75 323.64L312.00 324.52L312.25 325.46L312.50 326.44L312.75 327.43L313.00 328.42L313.25 329.36L313.50 330.24L313.75 331.04L314.00 331.73L314.25 332.30L314.50 332.72L314.75 333.01L314.75 333.20ZM326.00 333.20L326.00 332.79L326.25 332.63L326.50 332.53L326.75 332.45L327.00 332.39L327.25 332.35L327.50 332.32L327.75 332.31L328.00 332.30L328.25 332.31L328.50 332.32L328.75 332.35L329.00 332.39L329.25 332.45L329.50 332.53L329.75 332.63L330.00 332.79L330.00 333.20ZM376.50 333.20L376.50 332.91L376.75 332.70L377.00 332.51L377.25 332.33L377.50 332.18L377.75 332.05L378.00 331.94L378.25 331.85L378.50 331.78L378.75 331.73L379.00 331.71L379.25 331.70L379.50 331.71L379.75 331.75L380.00 331.81L380.25 331.88L380.50 331.98L380.75 332.10L381.00 332.24L381.25 332.40L381.50 332.58L381.75 332.78L382.00 333.01L382.00 333.20ZM484.75 333.20L484.75 332.75L485.00 332.55L485.25 332.50L485.50 332.61L485.75 332.88L485.75 333.20ZM495.25 333.20L495.25 332.70L495.50 332.34L495.75 332.03L496.00 331.77L496.25 331.56L496.50 331.39L496.75 331.28L497.00 331.22L497.25 331.20L497.50 331.24L497.75 331.32L498.00 331.45L498.25 331.64L498.50 331.87L498.75 332.15L499.00 332.48L499.25 332.86L499.25 333.20Z" fill="#3a9a3c"/>
<rect x="89.50" y="337.82" width="16.19" height="0.7" fill="#5c5c5c"/><rect x="89.25" y="335.50" width="0.95" height="5.20" fill="#3c3c3c"/><rect x="105.49" y="335.30" width="3.30" height="5.60" fill="#000"/><rect x="108.79" y="336.45" width="3.70" height="3.30" fill="#000"/><rect x="112.56" y="337.82" width="21.85" height="0.7" fill="#5c5c5c"/><rect x="134.42" y="335.30" width="4.60" height="5.60" fill="#000"/><rect x="139.02" y="336.55" width="25.75" height="3.10" fill="#000"/><path d="M347.36 338.10L349.96 335.25L353.06 335.25L353.06 340.95L349.96 340.95Z" fill="#000"/><rect x="353.06" y="337.82" width="8.16" height="0.7" fill="#5c5c5c"/><rect x="361.22" y="335.20" width="5.60" height="5.80" fill="#000"/><rect x="366.82" y="336.60" width="5.60" height="3.00" fill="#000"/><rect x="433.95" y="336.55" width="20.74" height="3.10" fill="#000"/><rect x="454.59" y="335.40" width="1.60" height="5.40" fill="#000"/><rect x="456.20" y="337.82" width="55.00" height="0.7" fill="#5c5c5c"/><path d="M463.38 335.40L464.38 335.40L467.68 338.10L464.38 340.80L463.38 340.80Z" fill="#000"/><rect x="481.20" y="335.20" width="1.20" height="5.80" fill="#0a0a0a"/><rect x="500.42" y="335.20" width="1.20" height="5.80" fill="#0a0a0a"/><rect x="95.63" y="337.45" width="1.5" height="1.3" fill="#352ba6"/><rect x="117.58" y="337.45" width="1.5" height="1.3" fill="#352ba6"/><rect x="128.71" y="337.45" width="1.5" height="1.3" fill="#352ba6"/><rect x="358.34" y="337.45" width="1.5" height="1.3" fill="#352ba6"/><rect x="461.63" y="337.45" width="1.5" height="1.3" fill="#352ba6"/><rect x="470.83" y="337.45" width="1.5" height="1.3" fill="#352ba6"/><rect x="472.85" y="337.45" width="1.5" height="1.3" fill="#352ba6"/><rect x="488.13" y="337.45" width="1.5" height="1.3" fill="#352ba6"/><rect x="499.05" y="337.45" width="1.5" height="1.3" fill="#352ba6"/><rect x="507.75" y="337.45" width="1.5" height="1.3" fill="#352ba6"/><rect x="87.48" y="337.60" width="1.2" height="1.0" fill="#a9a6dc"/>
<text x="50.80" y="331.20" font-size="8.3" text-anchor="start" textLength="21.50" lengthAdjust="spacingAndGlyphs">CEBPE</text>
<rect x="76.1" y="314.2" width="0.75" height="28.5" fill="#2a2a2a"/>
<text x="80.00" y="320.00" font-size="8.3" text-anchor="start" textLength="4.20" lengthAdjust="spacingAndGlyphs">9</text>
<text x="80.00" y="342.70" font-size="8.3" text-anchor="start" textLength="4.20" lengthAdjust="spacingAndGlyphs">0</text>
<text x="91.50" y="359.60" font-size="8.3" text-anchor="start" textLength="19.50" lengthAdjust="spacingAndGlyphs">ACIN1</text>
<text x="132.10" y="359.60" font-size="8.3" text-anchor="start" textLength="36.00" lengthAdjust="spacingAndGlyphs">C14orf119</text>
<text x="350.60" y="359.60" font-size="8.3" text-anchor="start" textLength="21.50" lengthAdjust="spacingAndGlyphs">CEBPE</text>
<text x="468.25" y="359.60" font-size="8.3" text-anchor="start" textLength="25.65" lengthAdjust="spacingAndGlyphs">SLC7A8</text>
<defs><clipPath id="ca"><rect x="292.3" y="35.3" width="31.4" height="107.5"/></clipPath><clipPath id="cb"><rect x="286.3" y="191.7" width="31.5" height="82"/></clipPath><clipPath id="cc"><rect x="291.5" y="312.5" width="31.3" height="44"/></clipPath></defs>
<rect x="292.3" y="35.3" width="31.4" height="107.5" fill="#e59053" fill-opacity="0.33"/>
<rect x="286.3" y="191.7" width="31.5" height="82" fill="#e59053" fill-opacity="0.33"/>
<rect x="291.5" y="312.5" width="31.3" height="44" fill="#e59053" fill-opacity="0.33"/>
<g clip-path="url(#ca)"><rect x="290.0" y="61.15" width="36.0" height="1.3" fill="#a796c6"/><path d="M300.25 62.35L300.25 61.91L300.50 61.32L300.75 60.69L301.00 60.06L301.25 59.45L301.50 58.88L301.75 58.36L302.00 57.89L302.25 57.49L302.50 57.16L302.75 56.89L303.00 56.70L303.25 56.59L303.50 56.55L303.75 56.59L304.00 56.70L304.25 56.89L304.50 57.16L304.75 57.49L305.00 57.89L305.25 58.36L305.50 58.88L305.75 59.45L306.00 60.06L306.25 60.69L306.50 61.32L306.75 61.91L306.75 62.35ZM308.25 62.35L308.25 62.18L308.50 61.36L308.75 60.61L309.00 59.95L309.25 59.36L309.50 58.86L309.75 58.43L310.00 58.08L310.25 57.80L310.50 57.61L310.75 57.49L311.00 57.45L311.25 57.49L311.50 57.61L311.75 56.93L312.00 56.51L312.25 56.27L312.50 56.20L312.75 56.27L313.00 56.49L313.25 56.86L313.50 57.37L313.75 58.03L314.00 58.09L314.25 58.05L314.50 58.07L314.75 58.15L315.00 58.29L315.25 58.50L315.50 58.77L315.75 59.10L316.00 59.51L316.25 59.98L316.50 60.54L316.75 61.18L317.00 61.96L317.00 62.35ZM324.00 62.35L324.00 62.13L324.25 62.04L324.50 61.97L324.75 61.90L325.00 61.85L325.25 61.80L325.50 61.77L325.75 61.76L326.00 61.75L326.00 62.35Z" fill="#5f4b96"/><rect x="290.0" y="75.85" width="36.0" height="1.3" fill="#a796c6"/><path d="M302.25 77.05L302.25 76.83L302.50 76.67L302.75 76.58L303.00 76.55L303.25 76.58L303.50 76.67L303.75 76.83L303.75 77.05ZM322.25 77.05L322.25 76.83L322.50 76.67L322.75 76.58L323.00 76.55L323.25 76.58L323.50 76.67L323.75 76.83L323.75 77.05Z" fill="#5f4b96"/><rect x="290.0" y="90.75" width="36.0" height="1.3" fill="#a796c6"/><path d="M300.50 91.95L300.50 91.35L300.75 90.71L301.00 90.04L301.25 89.39L301.50 88.79L301.75 88.23L302.00 87.75L302.25 87.34L302.50 87.01L302.75 86.77L303.00 86.62L303.25 86.55L303.50 86.58L303.75 86.70L304.00 86.91L304.25 87.20L304.50 87.58L304.75 88.03L305.00 88.56L305.25 89.14L305.50 89.78L305.75 90.44L306.00 91.10L306.25 91.70L306.25 91.95ZM310.25 91.95L310.25 91.71L310.50 91.22L310.75 90.73L311.00 90.26L311.25 89.84L311.50 89.47L311.75 89.17L312.00 88.93L312.25 88.77L312.50 88.67L312.75 88.65L313.00 88.70L313.25 88.83L313.50 89.02L313.75 89.28L314.00 89.61L314.25 90.00L314.50 90.44L314.75 90.92L315.00 91.42L315.00 91.95ZM316.75 91.95L316.75 91.77L317.00 91.62L317.25 91.50L317.50 91.42L317.75 91.37L318.00 91.35L318.25 91.37L318.50 91.42L318.75 91.50L319.00 91.62L319.25 91.77L319.25 91.95Z" fill="#5f4b96"/><rect x="290.0" y="105.65" width="36.0" height="1.3" fill="#a796c6"/><path d="M295.25 106.85L295.25 106.67L295.50 106.52L295.75 106.40L296.00 106.32L296.25 106.27L296.50 106.25L296.75 106.27L297.00 106.32L297.25 106.40L297.50 106.52L297.75 106.67L297.75 106.85ZM300.00 106.85L300.00 106.09L300.25 105.07L300.50 103.90L300.75 102.66L301.00 101.43L301.25 100.24L301.50 99.12L301.75 98.10L302.00 97.20L302.25 96.44L302.50 95.82L302.75 95.36L303.00 95.07L303.25 94.95L303.50 95.01L303.75 95.23L304.00 95.62L304.25 96.17L304.50 96.88L304.75 97.72L305.00 98.70L305.25 99.78L305.50 100.95L305.75 102.17L306.00 103.41L306.25 104.61L306.50 105.71L306.75 106.57L306.75 106.85ZM309.50 106.85L309.50 106.48L309.75 105.68L310.00 104.72L310.25 103.68L310.50 102.64L310.75 101.63L311.00 100.68L311.25 99.82L311.50 99.07L311.75 98.44L312.00 97.95L312.25 97.60L312.50 97.40L312.75 97.35L313.00 97.46L313.25 97.72L313.50 98.13L313.75 98.68L314.00 99.36L314.25 100.15L314.50 101.05L314.75 102.03L315.00 103.06L315.25 104.10L315.50 105.12L315.75 106.03L316.00 106.72L316.00 106.85ZM318.25 106.85L318.25 106.71L318.50 106.59L318.75 106.48L319.00 106.40L319.25 106.33L319.50 106.29L319.75 106.26L320.00 106.25L320.25 106.26L320.50 106.29L320.75 106.33L321.00 106.40L321.25 106.48L321.50 106.59L321.75 106.71L321.75 106.85Z" fill="#5f4b96"/><rect x="290.0" y="120.85" width="36.0" height="1.3" fill="#a796c6"/><path d="M300.25 122.05L300.25 121.75L300.50 121.30L300.75 120.84L301.00 120.40L301.25 119.98L301.50 119.60L301.75 119.26L302.00 118.97L302.25 118.72L302.50 118.52L302.75 118.38L303.00 118.29L303.25 118.25L303.50 118.27L303.75 118.34L304.00 118.46L304.25 118.64L304.50 118.86L304.75 119.14L305.00 119.46L305.25 119.83L305.50 120.23L305.75 120.66L306.00 121.12L306.25 121.39L306.50 121.64L306.75 121.56L307.00 121.45L307.25 121.36L307.50 121.30L307.75 121.26L308.00 121.25L308.25 121.26L308.50 121.30L308.75 121.36L309.00 121.45L309.25 121.56L309.50 121.70L309.75 121.86L309.75 122.05ZM310.50 122.05L310.50 121.67L310.75 121.38L311.00 121.14L311.25 120.92L311.50 120.74L311.75 120.60L312.00 120.48L312.25 120.41L312.50 120.36L312.75 120.35L313.00 120.37L313.25 120.43L313.50 120.52L313.75 120.65L314.00 120.81L314.25 121.00L314.50 121.23L314.75 121.49L315.00 121.79L315.00 122.05ZM325.25 122.05L325.25 121.77L325.50 121.52L325.75 121.32L326.00 121.15L326.00 122.05Z" fill="#5f4b96"/><rect x="290.0" y="135.95" width="36.0" height="0.9" fill="#e9d0c6"/><path d="M300.00 136.95L300.00 136.68L300.25 135.96L300.50 135.11L300.75 134.23L301.00 133.36L301.25 132.54L301.50 131.79L301.75 131.13L302.00 130.57L302.25 130.13L302.50 129.81L302.75 129.62L303.00 129.55L303.25 129.62L303.50 129.81L303.75 130.13L304.00 130.57L304.25 131.13L304.50 131.79L304.75 132.54L305.00 133.36L305.25 134.23L305.50 135.11L305.75 135.96L306.00 136.68L306.00 136.95ZM311.50 136.95L311.50 136.41L311.75 136.05L312.00 135.78L312.25 135.58L312.50 135.48L312.75 135.45L313.00 135.51L313.25 135.65L313.50 135.88L313.75 136.19L314.00 136.58L314.00 136.95Z" fill="#5f4b96"/><rect x="290" y="41.3" width="36" height="1" fill="#5c4c44"/><rect x="290" y="45.5" width="36" height="1.3" fill="#2e241f"/></g>
<g clip-path="url(#cb)"><path d="M294.25 210.35L294.25 209.97L294.50 209.22L294.75 208.46L295.00 207.71L295.25 207.00L295.50 206.34L295.75 205.73L296.00 205.18L296.25 204.69L296.50 204.26L296.75 203.90L297.00 203.61L297.25 203.39L297.50 203.24L297.75 203.16L298.00 203.16L298.25 203.22L298.50 203.36L298.75 203.56L299.00 203.84L299.25 204.18L299.50 204.60L299.75 205.07L300.00 205.61L300.25 206.21L300.50 206.87L300.75 207.57L301.00 208.31L301.25 209.07L301.50 209.83L301.50 210.35ZM305.50 210.35L305.50 210.10L305.75 209.90L306.00 209.76L306.25 209.68L306.50 209.65L306.75 209.68L307.00 209.76L307.25 209.90L307.50 209.85L307.75 209.90L308.00 209.76L308.25 209.68L308.50 209.65L308.75 209.68L309.00 209.76L309.25 209.90L309.50 209.85L309.75 209.90L310.00 209.76L310.25 209.68L310.50 209.65L310.75 209.68L311.00 209.76L311.25 209.90L311.50 210.10L311.50 210.35Z" fill="#e0483e"/><path d="M295.50 225.05L295.50 224.63L295.75 224.00L296.00 223.37L296.25 222.79L296.50 222.27L296.75 221.82L297.00 221.45L297.25 221.16L297.50 220.97L297.75 220.87L298.00 220.86L298.25 220.94L298.50 221.12L298.75 221.38L299.00 221.74L299.25 222.17L299.50 222.68L299.75 223.25L300.00 223.87L300.25 224.50L300.25 225.05ZM306.00 225.05L306.00 224.63L306.25 224.34L306.50 224.09L306.75 223.89L307.00 223.73L307.25 223.63L307.50 223.56L307.75 223.55L308.00 223.58L308.25 223.66L308.50 223.79L308.75 223.96L309.00 224.18L309.25 224.45L309.50 224.76L309.50 225.05Z" fill="#e0483e"/><path d="M284.00 240.05L284.00 239.18L284.25 239.51L284.25 240.05ZM289.00 240.05L289.00 239.81L289.25 239.55L289.50 239.38L289.75 239.28L290.00 239.04L290.25 238.52L290.50 238.22L290.75 238.17L291.00 238.36L291.25 238.45L291.50 238.67L291.75 239.05L292.00 239.48L292.25 239.81L292.25 240.05ZM293.75 240.05L293.75 239.74L294.00 239.49L294.25 239.30L294.50 239.16L294.75 239.08L295.00 239.05L295.25 239.08L295.50 239.16L295.75 238.97L296.00 238.51L296.25 238.11L296.50 237.81L296.75 237.29L297.00 236.86L297.25 236.52L297.50 236.29L297.75 236.17L298.00 236.16L298.25 236.26L298.50 236.47L298.75 236.78L299.00 237.19L299.25 237.70L299.50 238.29L299.75 238.93L300.00 239.60L300.00 240.05ZM301.50 240.05L301.50 239.79L301.75 239.63L302.00 239.56L302.25 239.56L302.50 239.66L302.75 239.83L302.75 240.05ZM303.50 240.05L303.50 239.76L303.75 239.54L304.00 239.44L304.25 239.48L304.50 239.64L304.50 240.05ZM305.25 240.05L305.25 239.90L305.50 239.68L305.75 239.55L306.00 239.50L306.25 239.53L306.50 239.64L306.75 239.78L307.00 239.76L307.25 239.54L307.50 239.20L307.75 238.83L308.00 238.57L308.25 238.28L308.50 237.99L308.75 237.84L309.00 237.84L309.25 238.00L309.50 238.09L309.75 238.00L310.00 238.05L310.25 238.24L310.50 238.57L310.75 238.77L311.00 239.03L311.25 239.37L311.50 239.78L311.50 240.05ZM313.25 240.05L313.25 239.71L313.50 239.38L313.75 239.07L314.00 238.84L314.25 238.70L314.50 238.65L314.75 238.67L315.00 238.60L315.25 238.53L315.50 238.66L315.75 238.99L316.00 239.32L316.25 239.71L316.25 240.05Z" fill="#e0483e"/><path d="M288.75 254.75L288.75 254.55L289.00 254.42L289.25 254.32L289.50 254.26L289.75 254.23L290.00 254.23L290.25 254.27L290.50 254.34L290.75 254.44L291.00 254.58L291.00 254.75ZM294.50 254.75L294.50 254.11L294.75 253.17L295.00 252.05L295.25 250.86L295.50 249.65L295.75 248.48L296.00 247.38L296.25 246.39L296.50 245.53L296.75 244.83L297.00 244.29L297.25 243.94L297.50 243.77L297.75 243.78L298.00 243.99L298.25 244.39L298.50 244.96L298.75 245.69L299.00 246.58L299.25 247.59L299.50 248.71L299.75 249.89L300.00 250.93L300.25 251.86L300.50 252.82L300.75 253.71L301.00 254.08L301.25 254.13L301.50 253.91L301.75 253.65L302.00 253.53L302.25 253.57L302.50 253.76L302.75 254.10L303.00 254.28L303.25 254.53L303.25 254.75ZM305.75 254.75L305.75 254.40L306.00 253.48L306.25 252.45L306.50 251.46L306.75 250.57L307.00 249.83L307.25 249.27L307.50 248.87L307.75 248.47L308.00 248.37L308.25 248.55L308.50 248.84L308.75 249.46L309.00 250.38L309.25 251.52L309.50 252.54L309.75 253.51L310.00 254.00L310.25 253.94L310.50 253.96L310.75 253.76L311.00 253.68L311.25 253.74L311.50 253.93L311.75 254.09L312.00 254.09L312.25 254.13L312.50 254.21L312.75 254.33L313.00 254.49L313.00 254.75ZM316.75 254.75L316.75 254.50L317.00 254.33L317.25 254.23L317.50 254.20L317.75 254.23L318.00 254.33L318.25 254.50L318.25 254.75Z" fill="#e0483e"/></g>
<g clip-path="url(#cc)"><path d="M297.00 333.20L297.00 332.89L297.25 332.37L297.50 331.64L297.75 330.75L298.00 329.75L298.25 328.69L298.50 327.62L298.75 326.59L299.00 325.64L299.25 324.80L299.50 324.11L299.75 323.58L300.00 323.25L300.25 323.10L300.50 323.16L300.75 323.43L301.00 323.88L301.25 324.51L301.50 325.29L301.75 326.20L302.00 327.21L302.25 328.26L302.50 329.33L302.75 330.36L303.00 331.30L303.25 332.10L303.50 332.71L303.50 333.20ZM305.50 333.20L305.50 332.96L305.75 332.65L306.00 332.19L306.25 331.60L306.50 330.89L306.75 330.07L307.00 329.18L307.25 328.22L307.50 327.24L307.75 326.24L308.00 325.27L308.25 324.34L308.50 323.47L308.75 322.69L309.00 322.01L309.25 321.46L309.50 321.03L309.75 320.75L310.00 320.61L310.25 320.63L310.50 320.79L310.75 321.11L311.00 321.56L311.25 322.14L311.50 322.84L311.75 323.64L312.00 324.52L312.25 325.46L312.50 326.44L312.75 327.43L313.00 328.42L313.25 329.36L313.50 330.24L313.75 331.04L314.00 331.73L314.25 332.30L314.50 332.72L314.75 333.01L314.75 333.20Z" fill="#4a9a42"/></g>
<rect x="0" y="0" width="1" height="369" fill="#4a4a4a"/><rect x="1" y="0" width="1" height="369" fill="#939393"/>
<rect x="518.8" y="0" width="1.2" height="369" fill="#000"/>
<rect x="0" y="0" width="520" height="1" fill="#000"/>
<rect x="1" y="367.75" width="519" height="1.25" fill="#000"/>
</svg>
</body></html>
